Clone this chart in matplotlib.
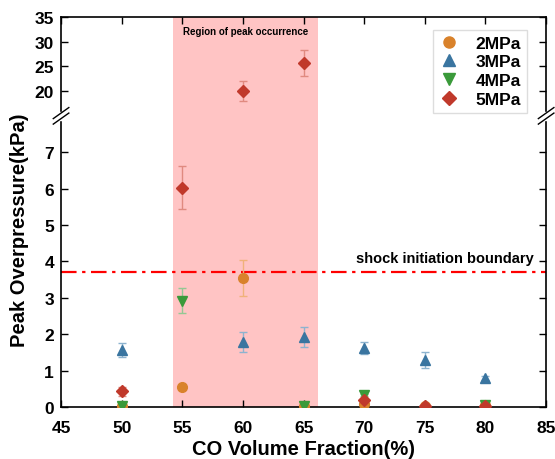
import numpy as np
import matplotlib.pyplot as plt
from matplotlib.lines import Line2D

plt.rcParams['font.family'] = ['Liberation Sans', 'DejaVu Sans']
plt.rcParams['font.weight'] = 'bold'

# CO volume fraction (%) and peak overpressure (kPa) per initial pressure
x_2 = [50, 55, 60, 65, 70, 75, 80]
y_2 = [0.02, 0.55, 3.55, 0.02, 0.08, 0.02, 0.05]
e_2 = [0.0, 0.06, 0.5, 0.0, 0.02, 0.0, 0.0]

x_3 = [50, 60, 65, 70, 75, 80]
y_3 = [1.57, 1.78, 1.93, 1.62, 1.30, 0.80]
e_3 = [0.20, 0.28, 0.28, 0.16, 0.22, 0.05]

x_4 = [50, 55, 65, 70, 80]
y_4 = [0.02, 2.92, 0.03, 0.32, 0.05]
e_4 = [0.02, 0.35, 0.04, 0.03, 0.0]

x_5 = [50, 55, 60, 65, 70, 75, 80]
y_5 = [0.43, 6.03, 20.1, 25.7, 0.2, 0.02, 0.03]
e_5 = [0.12, 0.58, 2.0, 2.6, 0.05, 0.0, 0.0]

series = [
    ("2MPa", x_2, y_2, e_2, "o", "#D9822B", "#F0B27A"),
    ("3MPa", x_3, y_3, e_3, "^", "#3A75A0", "#8DB3CF"),
    ("4MPa", x_4, y_4, e_4, "v", "#3A9A3A", "#93C893"),
    ("5MPa", x_5, y_5, e_5, "D", "#C0392B", "#E08A80"),
]

peak_region = (54.2, 66.2)
shock_level = 3.7

fig = plt.figure(figsize=(5.55, 4.6), dpi=100)
ax_lo = fig.add_axes([0.110, 0.113, 0.874, 0.633])
ax_hi = fig.add_axes([0.110, 0.746, 0.874, 0.215], sharex=ax_lo)

handles = []
for ax in (ax_lo, ax_hi):
    ax.axvspan(*peak_region, color="#FFC4C4", lw=0, zorder=0)
    for label, xs, ys, es, mk, col, ecol in series:
        ms = 7 if mk != "D" else 6
        ax.errorbar(xs, ys, yerr=es, fmt=mk, color=col, ecolor=ecol,
                    markersize=ms, capsize=3, elinewidth=1, capthick=1,
                    zorder=3)
        if ax is ax_hi:
            handles.append(Line2D([], [], ls="none", marker=mk, color=col,
                                  markersize=ms + 1, label=label))
    ax.tick_params(direction="in", length=5, width=1, labelsize=12.5, pad=5)
    for s in ax.spines.values():
        s.set_linewidth(1.2)

ax_lo.axhline(shock_level, color="red", ls=(0, (7, 2.5, 1.5, 2.5)), lw=1.6, zorder=2)
ax_lo.text(84.0, shock_level + 0.2, "shock initiation boundary", ha="right",
           va="bottom", fontsize=10.5, fontweight="bold")

ax_lo.set_xlim(45, 85)
ax_lo.set_xticks(np.arange(45, 86, 5))
ax_lo.set_ylim(0, 8)
ax_lo.set_yticks(range(0, 8))
ax_lo.spines["top"].set_visible(False)
ax_lo.tick_params(axis="x", pad=9)
ax_lo.tick_params(top=False, right=True)
ax_lo.set_xlabel("CO Volume Fraction(%)", fontsize=14.5, fontweight="bold",
                 labelpad=3)

ax_hi.set_ylim(15, 35)
ax_hi.set_yticks([20, 25, 30, 35])
ax_hi.spines["bottom"].set_visible(False)
ax_hi.tick_params(bottom=False, labelbottom=False, top=True, right=True)
ax_hi.text(np.mean(peak_region), 33.2, "Region of peak occurrence", ha="center",
           va="top", fontsize=7, fontweight="bold")
ax_hi.legend(handles=handles, loc="upper right", bbox_to_anchor=(0.978, 0.96),
             fontsize=12.5, frameon=True, edgecolor="#DDDDDD", fancybox=False,
             framealpha=1, handletextpad=0.9, borderpad=0.35,
             labelspacing=0.2, handlelength=1.2)

fig.text(0.036, 0.5, "Peak Overpressure(kPa)", rotation=90, ha="center",
         va="center", fontsize=14.5, fontweight="bold")

# axis-break marks on both vertical spines
yb = 0.746
for xb in (0.110, 0.984):
    fig.add_artist(plt.Rectangle((xb - 0.004, yb - 0.008), 0.008, 0.016,
                                 transform=fig.transFigure, color="white",
                                 zorder=5))
    for dy in (-0.006, 0.006):
        fig.add_artist(Line2D([xb - 0.014, xb + 0.014],
                              [yb + dy - 0.012, yb + dy + 0.012],
                              transform=fig.transFigure, color="black",
                              lw=1, zorder=6))

fig.savefig("out.png", dpi=100)
